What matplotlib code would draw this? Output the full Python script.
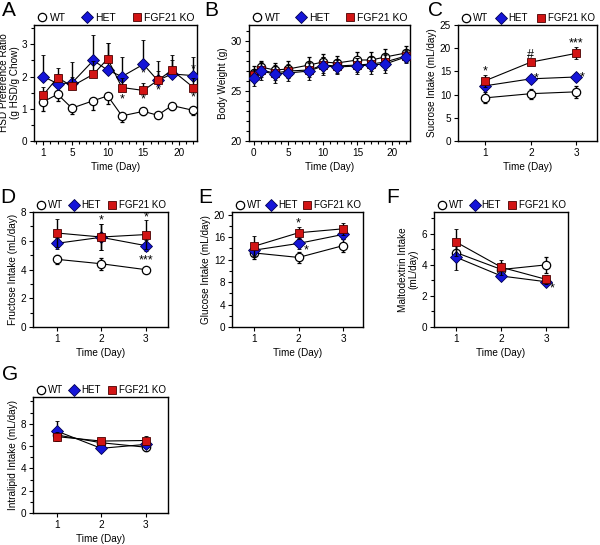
import matplotlib
matplotlib.use("Agg")
import matplotlib.pyplot as plt
from matplotlib.lines import Line2D
from matplotlib.ticker import MultipleLocator

plt.rcParams['font.family'] = ['Liberation Sans', 'DejaVu Sans']

# ---- Panel A: HSD preference ratio
a_days = [1, 3, 5, 8, 10, 12, 15, 17, 19, 22]
a_wt = [1.22, 1.45, 1.02, 1.25, 1.40, 0.78, 0.92, 0.80, 1.10, 0.95]
a_wt_err = [0.28, 0.22, 0.18, 0.30, 0.25, 0.18, 0.12, 0.08, 0.15, 0.15]
a_het = [2.00, 1.78, 1.80, 2.50, 2.20, 2.00, 2.38, 1.88, 2.08, 2.03]
a_het_err = [0.67, 0.30, 0.65, 0.80, 0.85, 0.60, 0.77, 0.60, 0.60, 0.57]
a_ko = [1.43, 1.97, 1.70, 2.07, 2.55, 1.66, 1.57, 1.88, 2.20, 1.66]
a_ko_err = [0.25, 0.31, 0.30, 0.40, 0.50, 0.30, 0.23, 0.30, 0.30, 0.30]
a_marks = [(12, 1.30, '*'), (15, 2.10, '*'), (15, 1.28, '*'), (17, 1.58, '*'),
           (22, 2.22, '*'), (22, 1.36, '*')]

# ---- Panel B: body weight
b_days = [0, 1, 3, 5, 8, 10, 12, 15, 17, 19, 22]
b_wt = [26.8, 27.4, 27.1, 27.2, 27.6, 27.9, 27.8, 28.1, 28.1, 28.4, 28.8]
b_het = [26.3, 27.0, 26.7, 26.8, 27.0, 27.5, 27.4, 27.5, 27.6, 27.7, 28.4]
b_ko = [26.6, 27.1, 26.8, 27.0, 27.1, 27.6, 27.5, 27.6, 27.7, 27.9, 28.5]
b_wt_err = [0.7, 0.6, 0.7, 0.8, 0.8, 0.8, 0.7, 0.8, 0.8, 0.8, 0.7]
b_het_err = [0.8, 0.9, 0.9, 0.8, 0.9, 0.9, 0.7, 0.8, 0.9, 0.9, 0.6]
b_ko_err = [0.6, 0.7, 0.7, 0.7, 0.7, 0.8, 0.7, 0.7, 0.7, 0.8, 0.6]

# ---- Panels C-G: intake over 3 days
days3 = [1, 2, 3]
c_wt, c_wt_err = [9.3, 10.2, 10.6], [1.2, 1.1, 1.3]
c_het, c_het_err = [11.9, 13.4, 13.8], [1.0, 0.6, 0.8]
c_ko, c_ko_err = [13.0, 17.0, 18.9], [1.3, 0.6, 1.3]
c_marks = [(1, 14.9, '*'), (2, 18.6, '#'), (3, 21.0, '***'),
           (2.12, 13.4, '*'), (3.12, 13.8, '*')]

d_wt, d_wt_err = [4.71, 4.40, 3.99], [0.3, 0.4, 0.1]
d_het, d_het_err = [5.82, 6.24, 5.66], [0.4, 0.9, 0.4]
d_ko, d_ko_err = [6.54, 6.26, 6.43], [1.0, 0.9, 1.0]
d_marks = [(2, 7.4, '*'), (3, 7.6, '*'), (3, 4.65, '***')]

e_wt, e_wt_err = [13.2, 12.4, 14.5], [1.0, 1.0, 1.2]
e_het, e_het_err = [13.7, 14.9, 16.5], [0.8, 1.0, 0.8]
e_ko, e_ko_err = [14.4, 16.8, 17.5], [1.8, 1.1, 1.1]
e_marks = [(2, 18.5, '*'), (2.18, 13.6, '*')]

f_wt, f_wt_err = [4.78, 3.70, 4.00], [0.5, 0.4, 0.5]
f_het, f_het_err = [4.48, 3.28, 2.91], [0.8, 0.2, 0.2]
f_ko, f_ko_err = [5.45, 3.84, 3.06], [0.85, 0.5, 0.3]
f_marks = [(3.13, 2.45, '*')]

g_wt, g_wt_err = [7.0, 6.3, 5.9], [0.4, 0.3, 0.3]
g_het, g_het_err = [7.35, 5.80, 6.15], [0.9, 0.3, 0.3]
g_ko, g_ko_err = [6.85, 6.45, 6.50], [0.4, 0.3, 0.4]

WT = dict(marker='o', mfc='white', mec='black', ms=6, mew=0.9)
HET = dict(marker='D', mfc='#1515d8', mec='#000050', ms=6, mew=0.6)
KO = dict(marker='s', mfc='#d21414', mec='#4a0000', ms=6, mew=0.6)

fig = plt.figure(figsize=(6.0, 5.45), dpi=100)


def px_axes(left, top, right, bottom):
    W, H = 600.0, 545.0
    return fig.add_axes([left / W, 1 - bottom / H, (right - left) / W, (bottom - top) / H])


def plot_series(ax, x, y, err, style, z):
    ax.errorbar(x, y, yerr=err, color='black', lw=0.8, elinewidth=1.0,
                capsize=1.5, capthick=1.0, zorder=z, **style)


def style_axes(ax, xlabel, ylabel, ypad=2, legsize=7):
    for s in ax.spines.values():
        s.set_linewidth(1.0)
    ax.tick_params(direction='out', length=3, width=0.8, labelsize=7.2, pad=2,
                   top=False, right=False)
    ax.tick_params(which='minor', direction='out', length=2, width=0.8, top=False, right=False)
    ax.set_xlabel(xlabel, fontsize=7.2, labelpad=3)
    ax.set_ylabel(ylabel, fontsize=7.2, labelpad=ypad, linespacing=1.1)
    handles = [Line2D([], [], ls='none', **WT), Line2D([], [], ls='none', **HET),
               Line2D([], [], ls='none', **KO)]
    ax.legend(handles, ['WT', 'HET', 'FGF21 KO'], loc='lower left', ncol=3,
              bbox_to_anchor=(0.0, 1.0, 1.0, 0.1), mode='expand', frameon=False,
              fontsize=legsize, handletextpad=0.1, borderaxespad=0.1, borderpad=0.1,
              handlelength=1.2)


def add_marks(ax, marks):
    for x, y, t in marks:
        ax.text(x, y, t, ha='center', va='center', fontsize=9)


# Panel A
ax = px_axes(34, 25, 197, 141)
plot_series(ax, a_days, a_wt, [a_wt_err, [0] * len(a_wt)], WT, 3)
plot_series(ax, a_days, a_het, [[0] * len(a_het), a_het_err], HET, 4)
plot_series(ax, a_days, a_ko, [[0] * len(a_ko), a_ko_err], KO, 5)
add_marks(ax, a_marks)
ax.set_xlim(-0.3, 22.5)
ax.set_ylim(0, 3.6)
ax.set_xticks([1, 5, 10, 15, 20])
ax.xaxis.set_minor_locator(MultipleLocator(1))
ax.set_yticks([0, 1, 2, 3])
ax.yaxis.set_minor_locator(MultipleLocator(0.5))
style_axes(ax, 'Time (Day)', 'HSD Preference Ratio\n(g HSD/g Chow)', ypad=1, legsize=7.5)

# Panel B
ax = px_axes(249, 25, 410, 141)
plot_series(ax, b_days, b_wt, b_wt_err, WT, 3)
plot_series(ax, b_days, b_ko, b_ko_err, KO, 4)
plot_series(ax, b_days, b_het, b_het_err, HET, 5)
ax.set_xlim(-0.7, 22.6)
ax.set_ylim(20, 31.6)
ax.set_xticks([0, 5, 10, 15, 20])
ax.xaxis.set_minor_locator(MultipleLocator(1))
ax.set_yticks([20, 25, 30])
ax.yaxis.set_minor_locator(MultipleLocator(1))
style_axes(ax, 'Time (Day)', 'Body Weight (g)', legsize=7.5)

# Panel C
ax = px_axes(458, 25, 597, 141)
plot_series(ax, days3, c_wt, c_wt_err, WT, 3)
plot_series(ax, days3, c_het, c_het_err, HET, 4)
plot_series(ax, days3, c_ko, c_ko_err, KO, 5)
add_marks(ax, c_marks)
ax.set_xlim(0.4, 3.45)
ax.set_ylim(0, 25)
ax.set_xticks(days3)
ax.set_yticks([0, 5, 10, 15, 20, 25])
style_axes(ax, 'Time (Day)', 'Sucrose Intake (mL/day)')

# Panel D
ax = px_axes(33, 212, 168, 327)
plot_series(ax, days3, d_wt, d_wt_err, WT, 3)
plot_series(ax, days3, d_het, d_het_err, HET, 4)
plot_series(ax, days3, d_ko, d_ko_err, KO, 5)
add_marks(ax, d_marks)
ax.set_xlim(0.47, 3.5)
ax.set_ylim(0, 8)
ax.set_xticks(days3)
ax.set_yticks([0, 2, 4, 6, 8])
ax.yaxis.set_minor_locator(MultipleLocator(1))
style_axes(ax, 'Time (Day)', 'Fructose Intake (mL/day)')

# Panel E
ax = px_axes(232, 212, 363, 327)
plot_series(ax, days3, e_wt, e_wt_err, WT, 3)
plot_series(ax, days3, e_het, e_het_err, HET, 4)
plot_series(ax, days3, e_ko, e_ko_err, KO, 5)
add_marks(ax, e_marks)
ax.set_xlim(0.5, 3.45)
ax.set_ylim(0, 20.5)
ax.set_xticks(days3)
ax.set_yticks([0, 4, 8, 12, 16, 20])
ax.yaxis.set_minor_locator(MultipleLocator(2))
style_axes(ax, 'Time (Day)', 'Glucose Intake (mL/day)')

# Panel F
ax = px_axes(434, 212, 568, 327)
plot_series(ax, days3, f_wt, f_wt_err, WT, 3)
plot_series(ax, days3, f_het, f_het_err, HET, 4)
plot_series(ax, days3, f_ko, f_ko_err, KO, 5)
add_marks(ax, f_marks)
ax.set_xlim(0.5, 3.48)
ax.set_ylim(0, 7.4)
ax.set_xticks(days3)
ax.set_yticks([0, 2, 4, 6])
ax.yaxis.set_minor_locator(MultipleLocator(1))
style_axes(ax, 'Time (Day)', 'Maltodextrin Intake\n(mL/day)')

# Panel G
ax = px_axes(33, 397, 168, 513)
plot_series(ax, days3, g_wt, g_wt_err, WT, 3)
plot_series(ax, days3, g_het, g_het_err, HET, 4)
plot_series(ax, days3, g_ko, g_ko_err, KO, 5)
ax.set_xlim(0.47, 3.5)
ax.set_ylim(0, 10.4)
ax.set_xticks(days3)
ax.set_yticks([0, 2, 4, 6, 8])
ax.yaxis.set_minor_locator(MultipleLocator(1))
style_axes(ax, 'Time (Day)', 'Intralipid Intake (mL/day)')

# panel letters
for letter, x, y in [('A', 2, 1), ('B', 204, 1), ('C', 428, 1),
                     ('D', 0, 188), ('E', 198, 188), ('F', 386, 188), ('G', 2, 365)]:
    fig.text(x / 600, 1 - y / 545, letter, fontsize=15, ha='left', va='top')

fig.savefig('out.png', dpi=100)
